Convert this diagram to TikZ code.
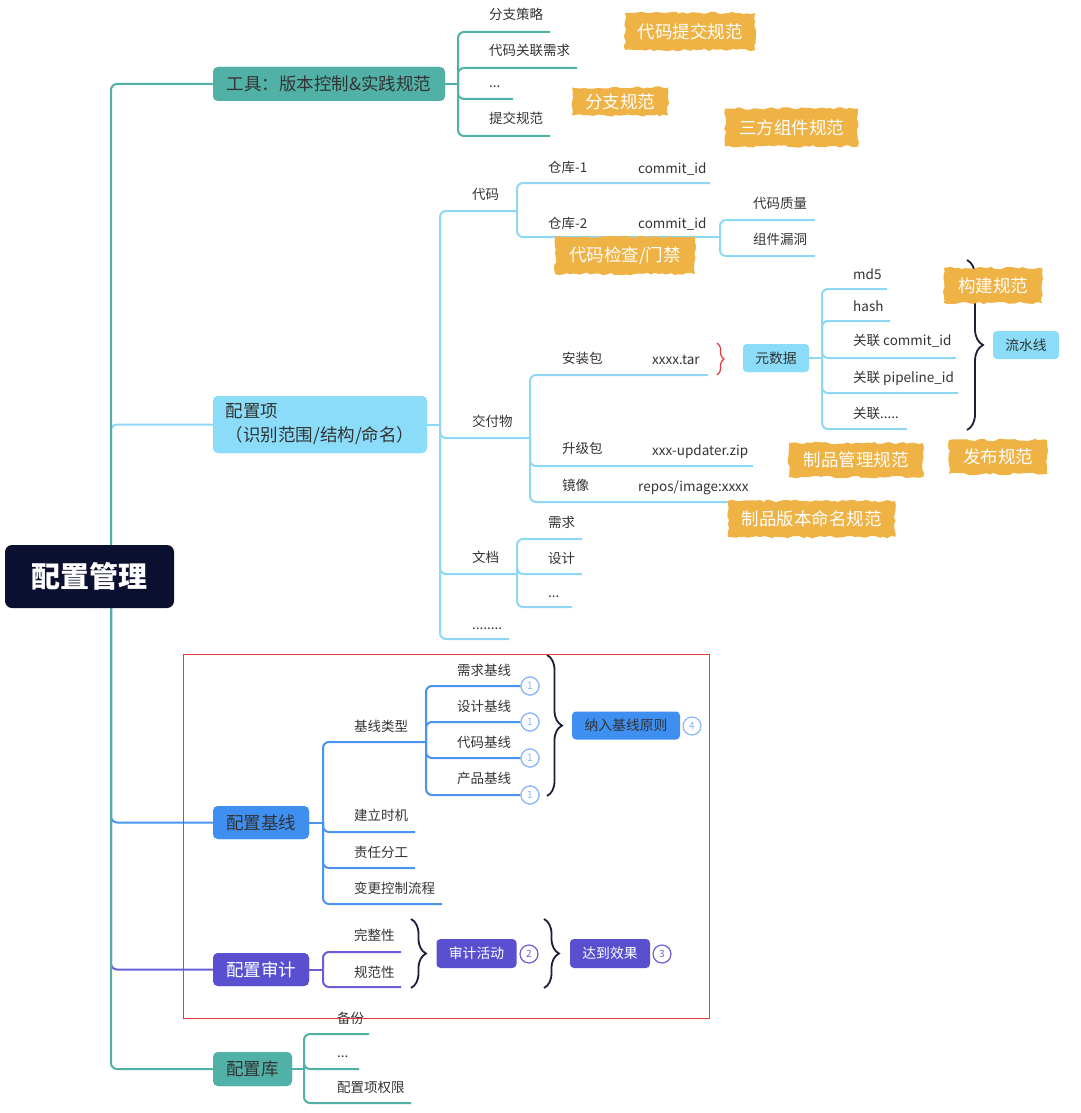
\documentclass[tikz,border=0pt]{standalone}
\usepackage{fontspec}
\setmainfont{Noto Sans CJK SC}
\usetikzlibrary{decorations.pathreplacing,decorations.pathmorphing}
\definecolor{cteal}{HTML}{52B1A7}
\definecolor{clight}{HTML}{8ADCF8}
\definecolor{clightline}{HTML}{8FD8F5}
\definecolor{cblue}{HTML}{3F8FF0}
\definecolor{cblueline}{HTML}{4A94EF}
\definecolor{cpurple}{HTML}{5A4FCF}
\definecolor{cpurpleline}{HTML}{6A5FD6}
\definecolor{croot}{HTML}{0B1030}
\definecolor{corange}{HTML}{EFB244}
\definecolor{cbrace}{HTML}{1A1F3A}
\definecolor{ctext}{HTML}{333333}
\definecolor{ccirc}{HTML}{8AB8F8}
\definecolor{cred}{HTML}{E8383A}
\tikzset{
  topic/.style={rounded corners=5pt, inner sep=0pt, align=center, font=\fontsize{17.5}{24}\selectfont, text=ctext},
  leaf/.style={anchor=base west, inner sep=0pt, font=\fontsize{13.5}{16}\selectfont, text=ctext},
  smallbox/.style={rounded corners=4pt, inner sep=0pt, font=\fontsize{13.8}{16}\selectfont, text=ctext},
  sticker/.style={fill=corange, text=white, inner sep=0pt, font=\fontsize{17.5}{20}\selectfont,
    decorate, decoration={random steps, segment length=4pt, amplitude=1.3pt}},
  numc/.style={circle, draw, fill=white, line width=1.2pt, minimum size=18pt, inner sep=0pt, font=\fontsize{10}{10}\selectfont},
  conn/.style={line width=2pt, rounded corners=6pt},
  brc/.style={decorate, decoration={brace, amplitude=#1}, line width=1.8pt, draw=cbrace},
}
\begin{document}
\begin{tikzpicture}[x=1pt, y=-1pt]
\useasboundingbox (0,0) rectangle (1080,1113);

% ---------- junction coordinates ----------
\coordinate (rt) at (111,576.5);
\coordinate (tj) at (458,84);
\coordinate (cj) at (440,424.5);
\coordinate (bj) at (323,822.5);
\coordinate (aj) at (323,969.5);
\coordinate (kj) at (304,1069);
\coordinate (mj) at (822,358);

% ---------- leaf end coordinates ----------
\coordinate (t1e) at (550,32);
\coordinate (t2e) at (577,68);
\coordinate (t3e) at (513,99);
\coordinate (t4e) at (550,136);
\coordinate (c1e) at (517,211);
\coordinate (c2e) at (530,438);
\coordinate (c3e) at (517,574);
\coordinate (c4e) at (509,639);
\coordinate (r1e) at (710,183);
\coordinate (r2e) at (720,237);
\coordinate (q1e) at (815,220);
\coordinate (q2e) at (815,256);
\coordinate (d1e) at (708,375);
\coordinate (d2e) at (753,466);
\coordinate (d3e) at (753,502);
\coordinate (w1e) at (582,539);
\coordinate (w2e) at (582,574);
\coordinate (w3e) at (572,607);
\coordinate (m1e) at (887,289);
\coordinate (m2e) at (890,321);
\coordinate (m3e) at (956,358);
\coordinate (m4e) at (958,393);
\coordinate (m5e) at (907,429);
\coordinate (b1e) at (426,742);
\coordinate (b2e) at (415,832);
\coordinate (b3e) at (415,868);
\coordinate (b4e) at (442,904);
\coordinate (a1e) at (401,952);
\coordinate (a2e) at (401,987);
\coordinate (k1e) at (369,1034);
\coordinate (k2e) at (359,1069);
\coordinate (k3e) at (411,1103);

% ---------- main boxes ----------
\node[topic, fill=cteal, minimum width=232pt, minimum height=34pt] (tool) at (329,84) {工具：版本控制\&实践规范};
\node[topic, fill=clight, minimum width=214pt, minimum height=57pt, align=left] (cfg) at (320,424.5) {配置项\\（识别范围/结构/命名）};
\node[topic, fill=cblue, minimum width=96pt, minimum height=33pt] (base) at (261,822.5) {配置基线};
\node[topic, fill=cpurple, text=white, minimum width=96pt, minimum height=33pt] (audit) at (261,969.5) {配置审计};
\node[topic, fill=cteal, minimum width=79pt, minimum height=34pt] (lib) at (252.5,1069) {配置库};

% ---------- small boxes ----------
\node[smallbox, fill=clight, minimum width=66pt, minimum height=28pt] (meta) at (776,358) {元数据};
\node[smallbox, fill=clight, minimum width=66pt, minimum height=28pt] (pipe) at (1026,345) {流水线};
\node[smallbox, fill=cblue, minimum width=108pt, minimum height=28pt] (rule) at (626,725.5) {纳入基线原则};
\node[smallbox, fill=cpurple, text=white, minimum width=80pt, minimum height=29pt] (act) at (476.5,953.5) {审计活动};
\node[smallbox, fill=cpurple, text=white, minimum width=80pt, minimum height=29pt] (eff) at (610,953.5) {达到效果};

% ---------- number circles ----------
\node[numc, draw=ccirc, text=ccirc] (n1c) at (530,686) {1};
\node[numc, draw=ccirc, text=ccirc] (n2c) at (530,722) {1};
\node[numc, draw=ccirc, text=ccirc] (n3c) at (530,758) {1};
\node[numc, draw=ccirc, text=ccirc] (n4c) at (530,795) {1};
\node[numc, draw=ccirc, text=ccirc] (r4c) at (692,726) {4};
\node[numc, draw=cpurpleline, text=cpurpleline] (a2c) at (529,954) {2};
\node[numc, draw=cpurpleline, text=cpurpleline] (a3c) at (662,954) {3};

% ---------- connectors ----------
% config items branch (light blue)
\draw[conn, clightline] (rt) |- (cfg.west);
\draw[conn, clightline] (cfg.east) -- (cj);
\draw[conn, clightline] (cj) |- (c1e);
\draw[conn, clightline] (cj) |- (c2e);
\draw[conn, clightline] (cj) |- (c3e);
\draw[conn, clightline] (cj) |- (c4e);
\draw[conn, clightline] (c1e) |- (r1e);
\draw[conn, clightline] (c1e) |- (r2e);
\draw[conn, clightline] (r2e) |- (q1e);
\draw[conn, clightline] (r2e) |- (q2e);
\draw[conn, clightline] (c2e) |- (d1e);
\draw[conn, clightline] (c2e) |- (d2e);
\draw[conn, clightline] (c2e) |- (d3e);
\draw[conn, clightline] (c3e) |- (w1e);
\draw[conn, clightline] (c3e) |- (w2e);
\draw[conn, clightline] (c3e) |- (w3e);
\draw[conn, clightline] (meta.east) -- (mj);
\draw[conn, clightline] (mj) |- (m1e);
\draw[conn, clightline] (mj) |- (m2e);
\draw[conn, clightline] (mj) |- (m3e);
\draw[conn, clightline] (mj) |- (m4e);
\draw[conn, clightline] (mj) |- (m5e);
% baseline branch (blue)
\draw[conn, cblueline] (rt) |- (base.west);
\draw[conn, cblueline] (base.east) -- (bj);
\draw[conn, cblueline] (bj) |- (b1e);
\draw[conn, cblueline] (bj) |- (b2e);
\draw[conn, cblueline] (bj) |- (b3e);
\draw[conn, cblueline] (bj) |- (b4e);
\draw[conn, cblueline] (b1e) |- (n1c.west);
\draw[conn, cblueline] (b1e) |- (n2c.west);
\draw[conn, cblueline] (b1e) |- (n3c.west);
\draw[conn, cblueline] (b1e) |- (n4c.west);
% audit branch (purple)
\draw[conn, cpurpleline] (rt) |- (audit.west);
\draw[conn, cpurpleline] (audit.east) -- (aj);
\draw[conn, cpurpleline] (aj) |- (a1e);
\draw[conn, cpurpleline] (aj) |- (a2e);
% teal branches on top
\draw[conn, cteal] (rt) |- (tool.west);
\draw[conn, cteal] (tool.east) -- (tj);
\draw[conn, cteal] (tj) |- (t1e);
\draw[conn, cteal] (tj) |- (t2e);
\draw[conn, cteal] (tj) |- (t3e);
\draw[conn, cteal] (tj) |- (t4e);
\draw[conn, cteal] (rt) |- (lib.west);
\draw[conn, cteal] (lib.east) -- (kj);
\draw[conn, cteal] (kj) |- (k1e);
\draw[conn, cteal] (kj) |- (k2e);
\draw[conn, cteal] (kj) |- (k3e);

% redraw boxes on top of connector ends
\node[topic, fill=cteal, minimum width=232pt, minimum height=34pt] at (tool) {工具：版本控制\&实践规范};
\node[topic, fill=clight, minimum width=214pt, minimum height=57pt, align=left] at (cfg) {配置项\\（识别范围/结构/命名）};
\node[topic, fill=cblue, minimum width=96pt, minimum height=33pt] at (base) {配置基线};
\node[topic, fill=cpurple, text=white, minimum width=96pt, minimum height=33pt] at (audit) {配置审计};
\node[topic, fill=cteal, minimum width=79pt, minimum height=34pt] at (lib) {配置库};
\node[smallbox, fill=clight, minimum width=66pt, minimum height=28pt] at (meta) {元数据};
\node[numc, draw=ccirc, text=ccirc] at (n1c) {1};
\node[numc, draw=ccirc, text=ccirc] at (n2c) {1};
\node[numc, draw=ccirc, text=ccirc] at (n3c) {1};
\node[numc, draw=ccirc, text=ccirc] at (n4c) {1};

% ---------- root ----------
\node[rounded corners=7pt, fill=croot, text=white, minimum width=169pt, minimum height=63pt, inner sep=0pt,
  font=\fontsize{29}{32}\selectfont\bfseries] (root) at (89.5,576.5) {配置管理};

% ---------- leaves ----------
\node[leaf] (t1) at (489,20) {分支策略};
\node[leaf] (t2) at (489,56) {代码关联需求};
\node[leaf] (t3) at (489,88) {...};
\node[leaf] (t4) at (489,124) {提交规范};

\node[leaf] (c1) at (472,199) {代码};
\node[leaf] (c2) at (472,426) {交付物};
\node[leaf] (c3) at (472,562) {文档};
\node[leaf] (c4) at (472,629) {........};

\node[leaf] (r1) at (548,172) {仓库-1};
\node[leaf] (r1b) at (638,173) {commit\_id};
\node[leaf] (r2) at (548,228) {仓库-2};
\node[leaf] (r2b) at (638,228) {commit\_id};
\node[leaf] (q1) at (753,208) {代码质量};
\node[leaf] (q2) at (753,244) {组件漏洞};

\node[leaf] (d1) at (562,363) {安装包};
\node[leaf] (d1b) at (652,364) {xxxx.tar};
\node[leaf] (d2) at (562,453) {升级包};
\node[leaf] (d2b) at (652,455) {xxx-updater.zip};
\node[leaf] (d3) at (562,490) {镜像};
\node[leaf] (d3b) at (638,491) {repos/image:xxxx};

\node[leaf] (w1) at (548,527) {需求};
\node[leaf] (w2) at (548,563) {设计};
\node[leaf] (w3) at (548,597) {...};

\node[leaf] (m1) at (853,279) {md5};
\node[leaf] (m2) at (853,311) {hash};
\node[leaf] (m3) at (853,345) {关联 commit\_id};
\node[leaf] (m4) at (853,382) {关联 pipeline\_id};
\node[leaf] (m5) at (853,418) {关联.....};

\node[leaf] (b1) at (354,731) {基线类型};
\node[leaf] (b2) at (354,820) {建立时机};
\node[leaf] (b3) at (354,857) {责任分工};
\node[leaf] (b4) at (354,893) {变更控制流程};
\node[leaf] (n1) at (457,675) {需求基线};
\node[leaf] (n2) at (457,711) {设计基线};
\node[leaf] (n3) at (457,747) {代码基线};
\node[leaf] (n4) at (457,783) {产品基线};

\node[leaf] (a1) at (354,940) {完整性};
\node[leaf] (a2) at (354,977) {规范性};

\node[leaf] (k1) at (337,1023) {备份};
\node[leaf] (k2) at (337,1057) {...};
\node[leaf] (k3) at (337,1092) {配置项权限};

% ---------- braces ----------
\draw[brc=7pt, draw=cred, line width=1.2pt] (717,343) -- (717,375);
\draw[brc=16pt] (967,260) -- (967,430);
\draw[brc=15pt] (547,655) -- (547,796);
\draw[brc=15pt] (411,919) -- (411,988);
\draw[brc=15pt] (544,919) -- (544,988);

% ---------- sticker labels ----------
\node[sticker, minimum width=130pt, minimum height=37pt] (s1) at (690,31.5) {代码提交规范};
\node[sticker, minimum width=96pt, minimum height=28pt] (s2) at (620,101.5) {分支规范};
\node[sticker, minimum width=133pt, minimum height=38pt] (s3) at (791.5,127.5) {三方组件规范};
\node[sticker, minimum width=140pt, minimum height=37pt] (s4) at (625,255.5) {代码检查/门禁};
\node[sticker, minimum width=98pt, minimum height=35pt] (s5) at (993,285.5) {构建规范};
\node[sticker, minimum width=98pt, minimum height=34pt] (s6) at (998,457) {发布规范};
\node[sticker, minimum width=134pt, minimum height=34pt] (s7) at (856,460) {制品管理规范};
\node[sticker, minimum width=167pt, minimum height=36pt] (s8) at (811.5,519) {制品版本命名规范};

% ---------- red frame ----------
\draw[cred, line width=1pt] (183,654) rectangle (709,1018);
\end{tikzpicture}
\end{document}
